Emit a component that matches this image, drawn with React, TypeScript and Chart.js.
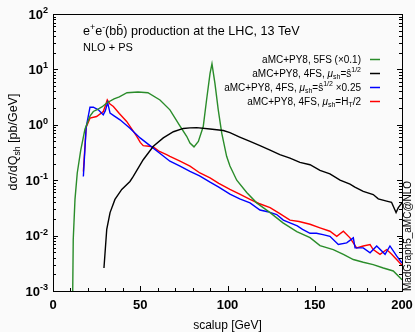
import React, { useEffect, useRef } from 'react';
import { Chart, registerables } from 'chart.js';

Chart.register(...registerables);

// ---------- data ----------
const X_TICK_LABELS = [0, 50, 100, 150, 200];
const Y_DECADES = [-3, -2, -1, 0, 1, 2];

const SERIES_LABELS = [
  'aMC+PY8, 5FS (×0.1)',
  'aMC+PY8, 4FS, μsh=ŝ^1/2',
  'aMC+PY8, 4FS, μsh=ŝ^1/2 ×0.25',
  'aMC+PY8, 4FS, μsh=HT/2',
];

const green5fsX = [10.5, 11.3, 11.6, 12.6, 13.9, 15.9, 18.3, 21.2, 23.1, 25, 28, 31, 35, 38, 42.4, 48.7, 54.4, 61.3, 67, 72.8, 76.6, 78.5, 80.8, 83.3, 86.1, 88, 90, 91.1, 92.8, 94.7, 96.7, 99.5, 101.4, 105.3, 111, 116.7, 124.4, 131.8, 139.7, 147.3, 153, 160.6, 166.4, 172.1, 177.8, 183.5, 189.3, 195, 200];
const green5fsY = [0.0001, 0.001, 0.0085, 0.045, 0.135, 0.35, 0.83, 1.43, 1.74, 1.85, 2.1, 2.5, 2.95, 3.2, 3.8, 3.9, 3.8, 2.8, 1.86, 0.95, 0.62, 0.47, 0.4, 0.5, 0.93, 2.8, 8.5, 12.6, 5.6, 1.86, 0.71, 0.27, 0.18, 0.1, 0.06, 0.039, 0.026, 0.017, 0.0118, 0.0092, 0.0066, 0.0056, 0.0046, 0.0037, 0.0033, 0.003, 0.0026, 0.0023, 0.0016];

const black4fsX = [29.2, 30.8, 32.7, 35.5, 39.4, 44.1, 46, 51.7, 57.5, 63.2, 69, 74.7, 78.5, 82.3, 90, 97.6, 101.4, 107, 112.9, 118.6, 124.4, 130, 135.8, 141.5, 147.3, 153, 158.7, 164.5, 170.2, 173, 177.8, 183.5, 186.4, 191.2, 194, 196.6, 197.9, 200];
const black4fsY = [0.0026, 0.013, 0.026, 0.045, 0.068, 0.095, 0.117, 0.234, 0.41, 0.58, 0.75, 0.86, 0.88, 0.89, 0.84, 0.79, 0.72, 0.6, 0.5, 0.42, 0.35, 0.29, 0.25, 0.21, 0.19, 0.15, 0.13, 0.1, 0.085, 0.075, 0.063, 0.055, 0.046, 0.042, 0.04, 0.026, 0.032, 0.039];

const blue4fsX = [17.4, 19, 21.2, 23.1, 26, 28.8, 30, 31.3, 32.7, 35, 38.4, 44.1, 49.9, 55.6, 61, 67, 72.8, 78.5, 84, 90, 95, 101.4, 107, 112.9, 118.6, 123, 128.2, 132, 135.8, 140, 143, 147.3, 151, 154.7, 158.7, 163.5, 168.3, 172.1, 173.1, 177.8, 181.7, 185.5, 190.3, 193.1, 196.9, 200];
const blue4fsY = [0.117, 0.9, 2.08, 2.08, 1.86, 1.51, 1.8, 2.52, 1.62, 1.45, 1.23, 0.87, 0.58, 0.42, 0.31, 0.22, 0.18, 0.144, 0.12, 0.092, 0.075, 0.056, 0.046, 0.039, 0.029, 0.027, 0.024, 0.019, 0.017, 0.015, 0.013, 0.011, 0.011, 0.0104, 0.0097, 0.0069, 0.0074, 0.0091, 0.006, 0.006, 0.0049, 0.0065, 0.0046, 0.0065, 0.0043, 0.0032];

const red4fsX = [17.4, 19, 21.2, 25, 28.8, 30, 31.1, 32.5, 34.6, 38, 42.2, 48, 50, 51.7, 55, 57.5, 61, 65.1, 67, 72.8, 78.5, 84.2, 90, 95, 101.4, 107, 112.9, 118, 124.4, 130, 135.8, 141, 147.3, 153, 158.7, 162.6, 166.4, 170.2, 174, 177.8, 181.7, 183.5, 187.4, 191.2, 194.1, 196.9, 200];
const red4fsY = [0.144, 0.9, 1.32, 1.41, 1.74, 2.2, 2.82, 2.4, 2.14, 1.6, 1.15, 0.62, 0.48, 0.42, 0.41, 0.4, 0.33, 0.29, 0.27, 0.22, 0.18, 0.135, 0.11, 0.088, 0.068, 0.056, 0.045, 0.038, 0.032, 0.025, 0.019, 0.018, 0.016, 0.0138, 0.012, 0.0097, 0.012, 0.0091, 0.006, 0.0065, 0.0069, 0.0056, 0.0046, 0.0056, 0.0046, 0.0037, 0.0029];

const COLORS = ['#2a8c2a', '#000000', '#0000ff', '#ff0000'];

// ---------- rich text helpers ----------
const FONT = "'Liberation Sans', Arial, Helvetica, sans-serif";
type Seg = { t: string; m?: 'sup' | 'sub'; it?: boolean };

function segFont(size: number, s: Seg, bold: boolean) {
  const sz = s.m ? size * 0.7 : size;
  return `${s.it ? 'italic ' : ''}${bold ? 'bold ' : ''}${sz}px ${FONT}`;
}
function richWidth(ctx: CanvasRenderingContext2D, segs: Seg[], size: number, bold = false) {
  let w = 0;
  for (const s of segs) {
    ctx.font = segFont(size, s, bold);
    w += ctx.measureText(s.t).width;
  }
  return w;
}
function drawRich(ctx: CanvasRenderingContext2D, segs: Seg[], x: number, y: number, size: number, bold = false, align: 'left' | 'right' | 'center' = 'left') {
  const w = richWidth(ctx, segs, size, bold);
  let cx = align === 'left' ? x : align === 'right' ? x - w : x - w / 2;
  ctx.textAlign = 'left';
  ctx.textBaseline = 'alphabetic';
  for (const s of segs) {
    ctx.font = segFont(size, s, bold);
    const dy = s.m === 'sup' ? -size * 0.42 : s.m === 'sub' ? size * 0.25 : 0;
    ctx.fillText(s.t, cx, y + dy);
    cx += ctx.measureText(s.t).width;
  }
}

const legendRich: Seg[][] = [
  [{ t: 'aMC+PY8, 5FS (×0.1)' }],
  [{ t: 'aMC+PY8, 4FS, ' }, { t: 'μ', it: true }, { t: 'sh', m: 'sub' }, { t: '=ŝ' }, { t: '1/2', m: 'sup' }],
  [{ t: 'aMC+PY8, 4FS, ' }, { t: 'μ', it: true }, { t: 'sh', m: 'sub' }, { t: '=ŝ' }, { t: '1/2', m: 'sup' }, { t: ' ×0.25' }],
  [{ t: 'aMC+PY8, 4FS, ' }, { t: 'μ', it: true }, { t: 'sh', m: 'sub' }, { t: '=H' }, { t: 'T', m: 'sub' }, { t: '/2' }],
];

const decor = {
  id: 'decor',
  beforeDraw(chart: any) {
    const ctx = chart.ctx as CanvasRenderingContext2D;
    ctx.save();
    ctx.fillStyle = '#fafafa';
    ctx.fillRect(0, 0, chart.width, chart.height);
    ctx.restore();
  },
  afterDraw(chart: any) {
    const ctx = chart.ctx as CanvasRenderingContext2D;
    const { left, right, top, bottom } = chart.chartArea;
    const xs = chart.scales.x;
    const ys = chart.scales.y;
    ctx.save();
    ctx.strokeStyle = '#000';
    ctx.fillStyle = '#000';
    ctx.lineWidth = 1;
    // frame
    ctx.strokeRect(Math.round(left) + 0.5, Math.round(top) + 0.5, Math.round(right - left), Math.round(bottom - top));
    ctx.beginPath();
    // x ticks
    for (let v = 0; v <= 200; v += 10) {
      const px = Math.round(xs.getPixelForValue(v)) + 0.5;
      const len = v % 50 === 0 ? 5 : 3;
      ctx.moveTo(px, bottom);
      ctx.lineTo(px, bottom - len);
    }
    // y ticks
    for (let d = -3; d <= 1; d++) {
      for (let m = 1; m <= 9; m++) {
        const py = Math.round(ys.getPixelForValue(m * Math.pow(10, d))) + 0.5;
        const len = m === 1 ? 5 : 3;
        ctx.moveTo(left, py); ctx.lineTo(left + len, py);
        ctx.moveTo(right, py); ctx.lineTo(right - len, py);
      }
    }
    ctx.stroke();

    // x tick labels
    ctx.font = `bold 13px ${FONT}`;
    ctx.textAlign = 'center';
    ctx.textBaseline = 'middle';
    for (const v of X_TICK_LABELS) {
      ctx.fillText(String(v), xs.getPixelForValue(v), 305);
    }
    // y tick labels
    for (const d of Y_DECADES) {
      const py = ys.getPixelForValue(Math.pow(10, d));
      drawRich(ctx, [{ t: '10' }, { t: String(d), m: 'sup' }], left - 5, py + 4.5, 13, true, 'right');
    }

    // axis titles
    ctx.fillStyle = '#000';
    drawRich(ctx, [{ t: 'scalup [GeV]' }], (left + right) / 2, 329, 12, false, 'center');
    ctx.save();
    ctx.translate(17, 142);
    ctx.rotate(-Math.PI / 2);
    drawRich(ctx, [{ t: 'dσ/dQ' }, { t: 'sh', m: 'sub' }, { t: ' [pb/GeV]' }], 0, 0, 12.5, false, 'center');
    ctx.restore();

    ctx.save();
    ctx.translate(411, 236);
    ctx.rotate(-Math.PI / 2);
    drawRich(ctx, [{ t: 'MadGraph5_aMC@NLO' }], 0, 0, 10, false, 'center');
    ctx.restore();

    // title
    drawRich(ctx, [{ t: 'e' }, { t: '+', m: 'sup' }, { t: 'e' }, { t: '-', m: 'sup' }, { t: '(bb\u0304) production at the LHC, 13 TeV' }], 83, 35, 12.6, false, 'left');
    drawRich(ctx, [{ t: 'NLO + PS' }], 83, 51, 11, false, 'left');

    // legend
    const rowsY = [59, 73, 87, 101];
    legendRich.forEach((segs, i) => {
      ctx.fillStyle = '#000';
      drawRich(ctx, segs, 361, rowsY[i] + 3.5, 10, false, 'right');
      ctx.strokeStyle = COLORS[i];
      ctx.lineWidth = 1.5;
      ctx.beginPath();
      ctx.moveTo(370, rowsY[i] + 0.5);
      ctx.lineTo(380, rowsY[i] + 0.5);
      ctx.stroke();
    });
    ctx.restore();
  },
};

function pts(xs: number[], ys: number[]) {
  return xs.map((x, i) => ({ x, y: ys[i] }));
}

export default function App() {
  const ref = useRef<HTMLCanvasElement>(null);
  useEffect(() => {
    if (!ref.current) return;
    const mk = (i: number, d: { x: number; y: number }[]) => ({
      label: SERIES_LABELS[i],
      data: d,
      borderColor: COLORS[i],
      backgroundColor: COLORS[i],
      borderWidth: 1.4,
      pointRadius: 0,
      tension: 0,
      fill: false,
    });
    const chart = new Chart(ref.current, {
      type: 'line',
      data: {
        datasets: [
          mk(1, pts(black4fsX, black4fsY)),
          mk(0, pts(green5fsX, green5fsY)),
          mk(2, pts(blue4fsX, blue4fsY)),
          mk(3, pts(red4fsX, red4fsY)),
        ],
      },
      options: {
        animation: false,
        responsive: false,
        devicePixelRatio: 1,
        layout: { padding: { left: 53, right: 13, top: 14, bottom: 41 } },
        plugins: { legend: { display: false }, tooltip: { enabled: false } },
        scales: {
          x: { type: 'linear', min: 0, max: 200, display: false },
          y: { type: 'logarithmic', min: 0.001, max: 100, display: false },
        },
      },
      plugins: [decor],
    });
    return () => chart.destroy();
  }, []);
  return (
    <div style={{ position: 'fixed', left: 0, top: 0, width: 415, height: 332 }}>
      <canvas ref={ref} width={415} height={332} style={{ width: 415, height: 332, display: 'block' }} />
    </div>
  );
}
